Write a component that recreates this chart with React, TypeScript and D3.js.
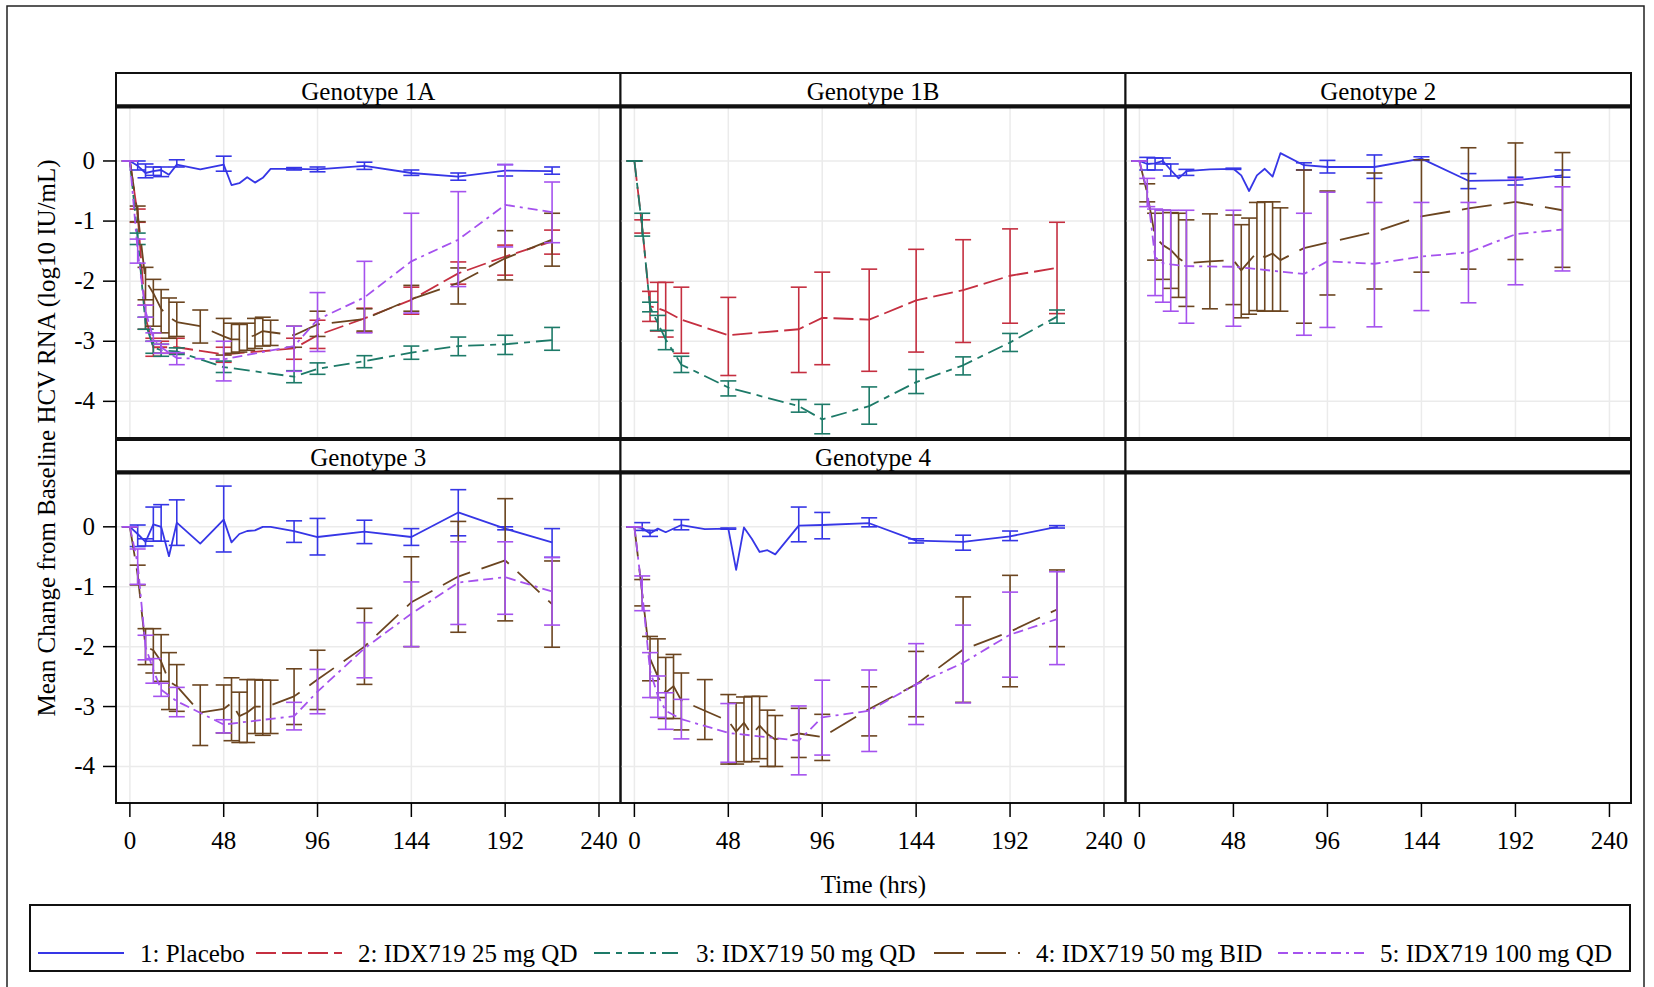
import React from "react";
import * as d3 from "d3";

// [hours, mean, lower, upper] - null bounds mean no error bar at that visit
type Pt = [number, number, number | null, number | null];

const FONT = "'Liberation Serif', 'Times New Roman', serif";

const xTicks = [0, 48, 96, 144, 192, 240];
const yTicks = [0, -1, -2, -3, -4];

const armLabels = ["1: Placebo", "2: IDX719 25 mg QD", "3: IDX719 50 mg QD", "4: IDX719 50 mg BID", "5: IDX719 100 mg QD"];
const armColors = ["#3636e6", "#c52f40", "#1d7a68", "#6b4520", "#a552ee"];
const armDash = ["", "20 6", "16 6 6 6", "30 12", "10 5 10 5 3 5"];

// Genotype 1A
const g1aPlacebo: Pt[] = [[0,0,0,0],[4,-0.08,-0.15,0],[8,-0.2,-0.28,-0.05],[12,-0.17,-0.24,-0.1],[16,-0.15,-0.26,-0.1],[20,-0.23,null,null],[24,-0.06,-0.1,0.02],[36,-0.14,null,null],[48,-0.06,-0.17,0.08],[52,-0.4,null,null],[56,-0.37,null,null],[60,-0.27,null,null],[64,-0.36,null,null],[68,-0.28,null,null],[72,-0.13,null,null],[84,-0.13,-0.15,-0.11],[96,-0.14,-0.18,-0.1],[120,-0.08,-0.14,-0.02],[144,-0.2,-0.24,-0.15],[168,-0.26,-0.32,-0.2],[192,-0.16,-0.25,-0.06],[216,-0.17,-0.22,-0.1]];
const g1a25: Pt[] = [[0,0,0,0],[4,-0.9,-1.02,-0.8],[8,-2.6,-2.8,-2.4],[12,-3.1,-3.25,-2.95],[16,-3.1,-3.2,-3.0],[24,-3.1,-3.2,-2.95],[48,-3.22,-3.35,-3.1],[84,-3.12,-3.3,-2.95],[96,-2.9,-3.12,-2.65],[120,-2.62,-2.85,-2.45],[144,-2.31,-2.55,-2.1],[168,-1.87,-2.05,-1.68],[192,-1.59,-1.9,-1.4],[216,-1.34,-1.55,-1.15]];
const g1a50: Pt[] = [[0,0,0,0],[4,-1.29,-1.39,-1.2],[8,-2.7,-2.8,-2.6],[12,-3.1,-3.2,-3.0],[16,-3.15,-3.25,-3.05],[24,-3.17,-3.22,-3.11],[48,-3.43,-3.52,-3.33],[84,-3.59,-3.69,-3.49],[96,-3.46,-3.55,-3.36],[120,-3.33,-3.44,-3.24],[144,-3.19,-3.3,-3.08],[168,-3.08,-3.24,-2.93],[192,-3.05,-3.22,-2.9],[216,-2.98,-3.15,-2.77]];
const g1aBid: Pt[] = [[0,0,0,0],[4,-0.88,-1.01,-0.75],[8,-1.99,-2.31,-1.77],[12,-2.2,-2.75,-1.97],[16,-2.46,-2.86,-2.14],[20,-2.6,-2.95,-2.28],[24,-2.68,-2.92,-2.35],[36,-2.75,-3.03,-2.48],[48,-2.92,-3.23,-2.62],[52,-2.97,-3.2,-2.7],[56,-2.97,-3.18,-2.72],[60,-2.94,-3.15,-2.7],[64,-2.9,-3.12,-2.62],[68,-2.83,-3.08,-2.6],[72,-2.85,-3.07,-2.65],[84,-2.9,-3.1,-2.75],[96,-2.72,-2.92,-2.5],[120,-2.63,-2.83,-2.46],[144,-2.3,-2.5,-2.07],[168,-2.03,-2.38,-1.78],[192,-1.62,-1.98,-1.16],[216,-1.31,-1.75,-0.87]];
const g1a100: Pt[] = [[0,0,0,0],[4,-1.5,-1.7,-1.3],[8,-2.5,-2.6,-2.4],[12,-2.95,-3.0,-2.86],[16,-3.1,-3.2,-3.05],[24,-3.28,-3.39,-3.19],[48,-3.3,-3.66,-3.0],[84,-3.08,-3.5,-2.75],[96,-2.64,-3.17,-2.19],[120,-2.27,-2.86,-1.67],[144,-1.67,-2.53,-0.87],[168,-1.31,-2.09,-0.51],[192,-0.73,-1.43,-0.06],[216,-0.85,-1.36,-0.35]];

// Genotype 1B
const g1b25: Pt[] = [[0,0,0,0],[4,-1.1,-1.2,-0.98],[8,-2.42,-2.67,-2.17],[12,-2.45,-2.83,-2.02],[16,-2.5,-2.93,-2.02],[24,-2.64,-3.2,-2.1],[48,-2.9,-3.57,-2.27],[84,-2.8,-3.52,-2.1],[96,-2.61,-3.39,-1.85],[120,-2.64,-3.5,-1.8],[144,-2.32,-3.18,-1.47],[168,-2.15,-3.02,-1.31],[192,-1.91,-2.7,-1.13],[216,-1.78,-2.54,-1.02]];
const g1b50: Pt[] = [[0,0,0,0],[4,-1.1,-1.25,-0.87],[8,-2.43,-2.51,-2.35],[12,-2.7,-2.82,-2.57],[16,-2.97,-3.14,-2.82],[24,-3.39,-3.52,-3.25],[48,-3.77,-3.91,-3.66],[84,-4.08,-4.18,-3.97],[96,-4.3,-4.54,-4.05],[120,-4.08,-4.38,-3.76],[144,-3.68,-3.87,-3.47],[168,-3.4,-3.56,-3.26],[192,-3.02,-3.17,-2.87],[216,-2.59,-2.7,-2.48]];

// Genotype 2
const g2Placebo: Pt[] = [[0,0,0,0],[4,-0.05,-0.15,0.06],[8,-0.04,-0.15,0.05],[12,0,-0.05,0.05],[16,-0.15,-0.25,-0.05],[20,-0.29,null,null],[24,-0.17,-0.24,-0.14],[36,-0.14,null,null],[48,-0.13,-0.14,-0.12],[52,-0.24,null,null],[56,-0.5,null,null],[60,-0.24,null,null],[64,-0.13,null,null],[68,-0.26,null,null],[72,0.13,null,null],[84,-0.07,-0.15,-0.03],[96,-0.1,-0.2,0.01],[120,-0.1,-0.29,0.1],[144,0.04,0.01,0.07],[168,-0.33,-0.46,-0.21],[192,-0.32,-0.4,-0.27],[216,-0.24,-0.27,-0.15]];
const g2Bid: Pt[] = [[0,0,0,0],[4,-0.54,-0.68,-0.38],[8,-1.26,-1.65,-0.87],[12,-1.4,-1.97,-0.82],[16,-1.48,-2.12,-0.86],[20,-1.62,-2.27,-0.87],[24,-1.7,-2.42,-0.98],[36,-1.67,-2.46,-0.88],[48,-1.65,-2.39,-0.9],[52,-1.82,-2.61,-1.06],[56,-1.67,-2.55,-0.95],[60,-1.52,-2.49,-0.69],[64,-1.6,-2.5,-0.68],[68,-1.54,-2.5,-0.68],[72,-1.65,-2.5,-0.78],[84,-1.45,-2.7,-0.15],[96,-1.36,-2.23,-0.5],[120,-1.18,-2.13,-0.2],[144,-0.92,-1.85,0.02],[168,-0.79,-1.8,0.22],[192,-0.68,-1.64,0.3],[216,-0.82,-1.77,0.14]];
const g2100: Pt[] = [[0,0,0,0],[4,-0.5,-0.76,-0.29],[8,-1.6,-2.24,-0.8],[12,-1.7,-2.35,-0.82],[16,-1.72,-2.5,-0.82],[24,-1.75,-2.7,-0.82],[48,-1.76,-2.75,-0.82],[84,-1.88,-2.9,-0.87],[96,-1.67,-2.77,-0.52],[120,-1.71,-2.76,-0.69],[144,-1.59,-2.49,-0.69],[168,-1.52,-2.36,-0.69],[192,-1.22,-2.06,-0.3],[216,-1.14,-1.83,-0.43]];

// Genotype 3
const g3Placebo: Pt[] = [[0,0,0,0],[4,-0.12,-0.33,0.03],[8,-0.25,-0.32,-0.2],[12,0.04,-0.24,0.33],[16,0,-0.24,0.37],[20,-0.49,null,null],[24,0.07,-0.31,0.45],[36,-0.28,null,null],[48,0.12,-0.42,0.68],[52,-0.26,null,null],[56,-0.12,null,null],[60,-0.07,null,null],[64,-0.06,null,null],[68,0,null,null],[72,0,null,null],[84,-0.07,-0.26,0.1],[96,-0.17,-0.47,0.14],[120,-0.08,-0.28,0.11],[144,-0.17,-0.31,-0.03],[168,0.24,-0.15,0.62],[192,-0.03,-0.05,0],[216,-0.26,-0.51,-0.03]];
const g3Bid: Pt[] = [[0,0,0,0],[4,-0.8,-0.97,-0.64],[8,-2.0,-2.3,-1.7],[12,-2.06,-2.44,-1.7],[16,-2.25,-2.58,-1.8],[20,-2.58,-3.05,-2.1],[24,-2.66,-3.08,-2.3],[36,-3.1,-3.65,-2.64],[48,-3.04,-3.44,-2.64],[52,-2.94,-3.57,-2.52],[56,-3.16,-3.6,-2.76],[60,-3.1,-3.6,-2.55],[64,-3.0,-3.45,-2.55],[68,-3.0,-3.48,-2.56],[72,-2.98,-3.45,-2.56],[84,-2.83,-3.3,-2.37],[96,-2.55,-3.05,-2.06],[120,-2.0,-2.63,-1.36],[144,-1.26,-2.0,-0.5],[168,-0.83,-1.76,0.09],[192,-0.56,-1.57,0.47],[216,-1.29,-2.01,-0.57]];
const g3100: Pt[] = [[0,0,0,0],[4,-0.62,-0.96,-0.37],[8,-2.0,-2.22,-1.81],[12,-2.39,-2.61,-2.2],[16,-2.72,-2.83,-2.61],[24,-2.91,-3.17,-2.68],[48,-3.3,-3.44,-3.22],[84,-3.16,-3.39,-2.93],[96,-2.75,-3.12,-2.38],[120,-2.03,-2.52,-1.6],[144,-1.45,-2.0,-0.92],[168,-0.93,-1.63,-0.25],[192,-0.84,-1.46,-0.25],[216,-1.08,-1.64,-0.51]];

// Genotype 4
const g4Placebo: Pt[] = [[0,0,0,0],[4,-0.02,-0.06,0.07],[8,-0.11,-0.16,-0.06],[12,-0.03,null,null],[16,-0.09,null,null],[24,0.03,-0.05,0.12],[36,-0.04,null,null],[48,-0.03,-0.04,-0.02],[52,-0.72,null,null],[56,-0.01,null,null],[60,-0.2,null,null],[64,-0.42,null,null],[68,-0.39,null,null],[72,-0.46,null,null],[84,0.02,-0.25,0.33],[96,0.03,-0.2,0.24],[120,0.06,0,0.15],[144,-0.23,-0.27,-0.2],[168,-0.25,-0.39,-0.14],[192,-0.16,-0.23,-0.07],[216,0,-0.02,0.02]];
const g4Bid: Pt[] = [[0,0,0,0],[4,-1.11,-1.32,-0.88],[8,-2.2,-2.57,-1.83],[12,-2.5,-2.85,-1.87],[16,-2.77,-3.2,-2.18],[20,-2.66,-3.2,-2.13],[24,-2.9,-3.39,-2.44],[36,-3.07,-3.55,-2.55],[48,-3.24,-3.96,-2.8],[52,-3.42,-3.96,-2.94],[56,-3.27,-3.92,-2.84],[60,-3.47,-3.92,-2.83],[64,-3.32,-3.87,-2.83],[68,-3.46,-4.0,-3.06],[72,-3.55,-4.0,-3.15],[84,-3.45,-3.85,-3.03],[96,-3.51,-3.9,-3.13],[120,-3.04,-3.49,-2.67],[144,-2.63,-3.17,-2.08],[168,-2.05,-2.93,-1.17],[192,-1.75,-2.67,-0.81],[216,-1.38,-2.0,-0.72]];
const g4100: Pt[] = [[0,0,0,0],[4,-1.1,-1.4,-0.82],[8,-2.4,-2.85,-2.1],[12,-2.82,-3.18,-2.49],[16,-3.07,-3.38,-2.77],[24,-3.21,-3.54,-2.88],[48,-3.44,-3.93,-2.95],[84,-3.57,-4.14,-2.99],[96,-3.18,-3.81,-2.56],[120,-3.07,-3.75,-2.39],[144,-2.63,-3.3,-1.95],[168,-2.27,-2.94,-1.64],[192,-1.8,-2.51,-1.09],[216,-1.54,-2.3,-0.75]];

type Series = { arm: number; pts: Pt[] };
const panels: { title: string; row: number; col: number; series: Series[] }[] = [
  { title: "Genotype 1A", row: 0, col: 0, series: [{ arm: 0, pts: g1aPlacebo }, { arm: 1, pts: g1a25 }, { arm: 2, pts: g1a50 }, { arm: 3, pts: g1aBid }, { arm: 4, pts: g1a100 }] },
  { title: "Genotype 1B", row: 0, col: 1, series: [{ arm: 1, pts: g1b25 }, { arm: 2, pts: g1b50 }] },
  { title: "Genotype 2", row: 0, col: 2, series: [{ arm: 0, pts: g2Placebo }, { arm: 3, pts: g2Bid }, { arm: 4, pts: g2100 }] },
  { title: "Genotype 3", row: 1, col: 0, series: [{ arm: 0, pts: g3Placebo }, { arm: 3, pts: g3Bid }, { arm: 4, pts: g3100 }] },
  { title: "Genotype 4", row: 1, col: 1, series: [{ arm: 0, pts: g4Placebo }, { arm: 3, pts: g4Bid }, { arm: 4, pts: g4100 }] },
  { title: "", row: 1, col: 2, series: [] },
];

// layout
const colEdges = [116, 620.5, 1125.5, 1631];
const rows = [
  { head: 73, top: 107.5, bottom: 438 },
  { head: 440, top: 473.5, bottom: 803 },
];
const legendX = [38, 256, 594, 934, 1278];
const CAP = 8;

const App = () => {
  const xScales = [0, 1, 2].map((c) =>
    d3.scaleLinear().domain([-7.1, 251]).range([colEdges[c], colEdges[c + 1]])
  );
  const yScales = rows.map((r) => d3.scaleLinear().domain([-4.61, 0.89]).range([r.bottom, r.top]));

  return (
    <svg width={1654} height={987} style={{ position: "absolute", left: 0, top: 0, background: "#fff" }} fontFamily={FONT}>
      <rect x={7} y={6} width={1637} height={1000} fill="#fff" stroke="#222" strokeWidth={1.5} />

      {panels.map((p, i) => {
        const x = xScales[p.col];
        const y = yScales[p.row];
        const r = rows[p.row];
        const x0 = colEdges[p.col];
        const x1 = colEdges[p.col + 1];
        const empty = p.series.length === 0;
        const line = d3
          .line<Pt>()
          .x((d) => x(d[0]))
          .y((d) => y(d[1]));
        return (
          <g key={i}>
            <rect x={x0} y={r.head} width={x1 - x0} height={r.top - r.head - 1.5} fill="#fff" stroke="#111" strokeWidth={2} />
            <line x1={x0} x2={x1} y1={r.top - 2} y2={r.top - 2} stroke="#111" strokeWidth={2.5} />
            <text x={(x0 + x1) / 2} y={(r.head + r.top) / 2 + 9.5} textAnchor="middle" fontSize={25} fill="#000">
              {p.title}
            </text>
            {!empty && (
              <g>
                {xTicks.map((t) => (
                  <line key={"gx" + t} x1={x(t)} x2={x(t)} y1={r.top} y2={r.bottom} stroke="#ebebeb" strokeWidth={1.5} />
                ))}
                {yTicks.map((v) => (
                  <line key={"gy" + v} x1={x0} x2={x1} y1={y(v)} y2={y(v)} stroke="#ebebeb" strokeWidth={1.5} />
                ))}
                {p.series.map((s) => (
                  <g key={s.arm} stroke={armColors[s.arm]} fill="none">
                    {s.pts
                      .filter((d) => d[2] !== null && d[3] !== null)
                      .map((d) => (
                        <g key={d[0]} strokeWidth={1.6}>
                          <line x1={x(d[0])} x2={x(d[0])} y1={y(d[2] as number)} y2={y(d[3] as number)} />
                          <line x1={x(d[0]) - CAP} x2={x(d[0]) + CAP} y1={y(d[2] as number)} y2={y(d[2] as number)} />
                          <line x1={x(d[0]) - CAP} x2={x(d[0]) + CAP} y1={y(d[3] as number)} y2={y(d[3] as number)} />
                        </g>
                      ))}
                    <path d={line(s.pts) || ""} strokeWidth={1.8} strokeDasharray={armDash[s.arm]} strokeLinejoin="round" />
                  </g>
                ))}
              </g>
            )}
            <rect x={x0} y={r.top} width={x1 - x0} height={r.bottom - r.top} fill="none" stroke="#111" strokeWidth={2} />
          </g>
        );
      })}

      {/* y axes */}
      {rows.map((r, ri) => (
        <g key={"ya" + ri}>
          {yTicks.map((v) => (
            <g key={v}>
              <line x1={colEdges[0] - 13} x2={colEdges[0]} y1={yScales[ri](v)} y2={yScales[ri](v)} stroke="#000" strokeWidth={1.5} />
              <text x={95} y={yScales[ri](v) + 8} textAnchor="end" fontSize={25}>
                {v === 0 ? "0" : "-" + Math.abs(v)}
              </text>
            </g>
          ))}
        </g>
      ))}

      {/* x axes */}
      {xScales.map((x, ci) => (
        <g key={"xa" + ci}>
          <line x1={colEdges[ci]} x2={colEdges[ci + 1]} y1={803} y2={803} stroke="#111" strokeWidth={2} />
          {xTicks.map((t) => (
            <g key={t}>
              <line x1={x(t)} x2={x(t)} y1={803} y2={817} stroke="#000" strokeWidth={1.5} />
              <text x={x(t)} y={849} textAnchor="middle" fontSize={25}>
                {t}
              </text>
            </g>
          ))}
        </g>
      ))}

      <text x={(colEdges[0] + colEdges[3]) / 2} y={893} textAnchor="middle" fontSize={25}>
        Time (hrs)
      </text>
      <text transform={`translate(55, ${(rows[0].head + rows[1].bottom) / 2}) rotate(-90)`} textAnchor="middle" fontSize={25}>
        Mean Change from Baseline HCV RNA (log10 IU/mL)
      </text>

      {/* legend */}
      <rect x={30} y={905} width={1600} height={66} fill="none" stroke="#111" strokeWidth={2} />
      {armLabels.map((lab, i) => (
        <g key={lab}>
          <line x1={legendX[i]} x2={legendX[i] + 86} y1={953} y2={953} stroke={armColors[i]} strokeWidth={2} strokeDasharray={armDash[i]} />
          <text x={legendX[i] + 102} y={962} fontSize={25}>
            {lab}
          </text>
        </g>
      ))}
    </svg>
  );
};

export default App;
